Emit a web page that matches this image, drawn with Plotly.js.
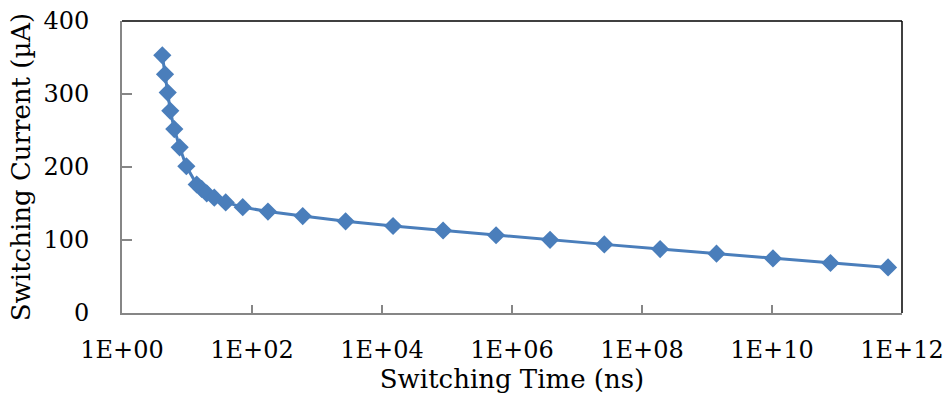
<!DOCTYPE html>
<html>
<head>
<meta charset="utf-8">
<script src="https://cdn.plot.ly/plotly-3.0.1.min.js"></script>
<style>html,body{margin:0;padding:0;background:#fff;}#chart{width:948px;height:403px;}</style>
</head>
<body>
<div id="chart"></div>
<script>
// Switching time (ns) and switching current (µA)
const switchingTimeNs = [4.17, 4.59, 5.05, 5.53, 6.38, 7.71, 9.77, 14.1, 16.8, 20.1, 26.3, 39.4, 72, 176,
  603, 2754, 14791, 87096, 569000, 3.85e6, 2.63e7, 1.9e8, 1.4e9, 1.035e10, 7.94e10, 6.1e11];
const switchingCurrentUA = [353, 327, 302, 277, 252, 227, 201, 176, 170, 164, 158, 151.5, 145, 139,
  132.8, 125.6, 119.2, 113, 106.5, 100.2, 94, 87.6, 81.2, 74.8, 68.5, 62.4];
const xTickVals = [1, 1e2, 1e4, 1e6, 1e8, 1e10, 1e12];
const xTickText = ["1E+00", "1E+02", "1E+04", "1E+06", "1E+08", "1E+10", "1E+12"];
const yTickVals = [0, 100, 200, 300, 400];

const font = {family: 'DejaVu Serif, serif', size: 24, color: '#000'};
const titleFont = {family: 'DejaVu Serif, serif', size: 26, color: '#000'};
const axisGrey = '#868686';

const trace = {
  x: switchingTimeNs,
  y: switchingCurrentUA,
  type: 'scatter',
  mode: 'lines+markers',
  line: {color: '#4a7ebb', width: 3},
  marker: {symbol: 'diamond', size: 14, color: '#4a7ebb'},
  hoverinfo: 'x+y'
};

const layout = {
  width: 948, height: 403,
  margin: {l: 122, r: 46, t: 21, b: 90, pad: 0},
  paper_bgcolor: '#fff', plot_bgcolor: '#fff',
  showlegend: false,
  font: font,
  xaxis: {
    type: 'log', range: [0, 12],
    tickvals: xTickVals, ticktext: xTickText,
    ticks: 'inside', ticklen: 8, tickwidth: 1.3, tickcolor: axisGrey,
    showline: true, linecolor: axisGrey, linewidth: 2,
    showgrid: false, zeroline: false,
    tickfont: font, ticklabelstandoff: 14,
    title: {text: 'Switching Time (ns)', font: titleFont, standoff: 5}
  },
  yaxis: {
    range: [0, 400], tickvals: yTickVals,
    ticks: 'inside', ticklen: 10, tickwidth: 1.3, tickcolor: axisGrey,
    showline: true, linecolor: axisGrey, linewidth: 2,
    showgrid: false, zeroline: false,
    tickfont: font, ticklabelstandoff: 26,
    title: {text: 'Switching Current (µA)', font: titleFont, standoff: 5}
  },
  shapes: [
    {type: 'line', xref: 'paper', yref: 'paper', x0: 0, x1: 1, y0: 1, y1: 1, line: {color: '#000', width: 1.5}},
    {type: 'line', xref: 'paper', yref: 'paper', x0: 1, x1: 1, y0: 0, y1: 1, line: {color: '#000', width: 1.5}}
  ]
};

Plotly.newPlot('chart', [trace], layout, {displayModeBar: false, staticPlot: true});
</script>
</body>
</html>
